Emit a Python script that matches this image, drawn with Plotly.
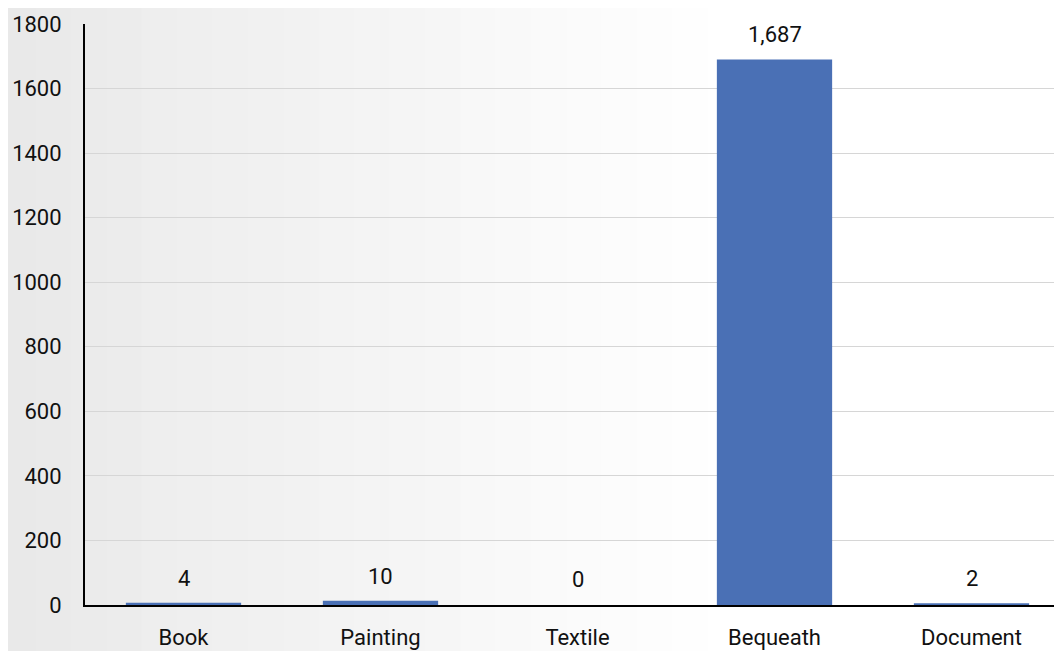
import plotly.graph_objects as go

categories = ["Book", "Painting", "Textile", "Bequeath", "Document"]
values = [4, 10, 0, 1687, 2]
y_ticks = [0, 200, 400, 600, 800, 1000, 1200, 1400, 1600, 1800]

# page has an 8px body margin; compensate so the plot lands where the reference has it
W, H = 1054, 643
ML, MR, MT, MB = 77, 0, 16, 46

fig = go.Figure()
fig.add_trace(go.Bar(
    x=categories, y=values, width=0.575,
    marker=dict(color="#4a70b5",
                line=dict(color="#4a70b5", width=[2 if v > 0 else 0 for v in values])),
    cliponaxis=False,
))

for c, v in zip(categories, values):
    fig.add_annotation(
        x=c, y=v, text=f"{v:,}", showarrow=False,
        yanchor="bottom", yshift=11,
        font=dict(family="Roboto", size=22, color="#111111"),
    )

pw = W - ML - MR
ph = H - MT - MB
n = 30
shapes = []
for i in range(n):
    x0 = i * (W + 8) / n - 8
    x1 = (i + 1) * (W + 8) / n - 8
    t = ((x0 + x1) / 2 + 8) / 700.0
    t = max(0.0, min(t, 1.0))
    g = int(233 + (255 - 233) * t)
    shapes.append(dict(
        type="rect", xref="paper", yref="paper",
        x0=(x0 - ML) / pw, x1=(x1 - ML) / pw + 0.002,
        y0=-(MB + 8) / ph, y1=1 + (MT + 8) / ph,
        fillcolor=f"rgb({g},{g},{g})", line=dict(width=0), layer="below",
    ))

fig.update_layout(
    width=W, height=H,
    margin=dict(l=ML, r=MR, t=MT, b=MB),
    paper_bgcolor="rgb(236,236,236)", plot_bgcolor="rgba(0,0,0,0)",
    shapes=shapes, showlegend=False,
    font=dict(family="Roboto", size=22, color="#111111"),
    xaxis=dict(
        range=[-0.5, -0.5 + pw / 197.0],
        showline=True, linecolor="black", linewidth=2,
        showgrid=False, ticks="", ticklabelstandoff=12,
        tickfont=dict(family="Roboto", size=22, color="#111111"),
    ),
    yaxis=dict(
        range=[0, 1800], tickvals=y_ticks, ticktext=[str(v) for v in y_ticks],
        showline=True, linecolor="black", linewidth=2,
        showgrid=True, gridcolor="#d6d6d6", gridwidth=1,
        zeroline=False, ticks="", ticklabelstandoff=17,
        tickfont=dict(family="Roboto", size=22, color="#111111"),
    ),
)

fig.write_html("out.html")
